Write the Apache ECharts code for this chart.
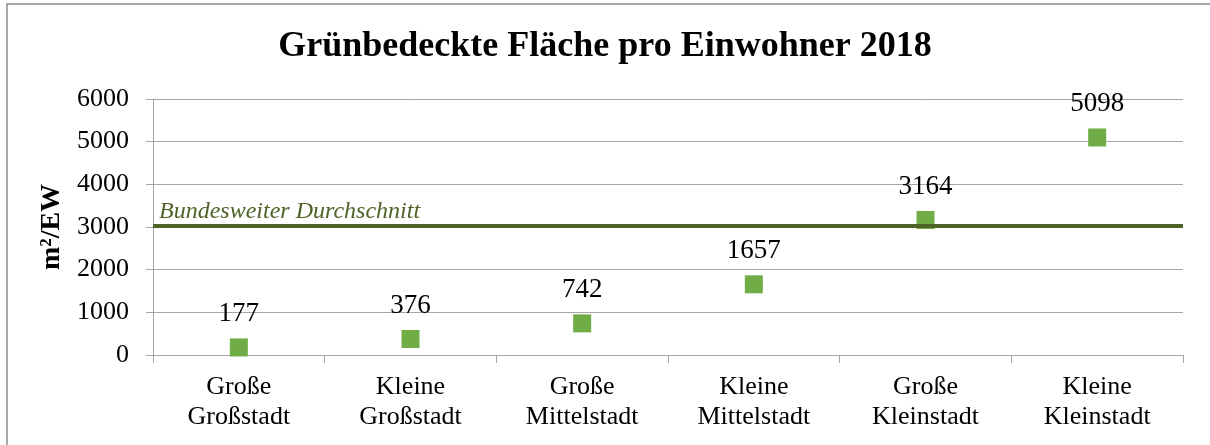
<!DOCTYPE html>
<html>
<head>
<meta charset="utf-8">
<script src="https://cdn.jsdelivr.net/npm/echarts@6/dist/echarts.min.js"></script>
<style>
  html, body { margin: 0; padding: 0; background: #fff; }
  #chart { width: 1210px; height: 445px; }
</style>
</head>
<body>
<div id="chart"></div>
<script>
// data
const categories = [
  "Große\nGroßstadt",
  "Kleine\nGroßstadt",
  "Große\nMittelstadt",
  "Kleine\nMittelstadt",
  "Große\nKleinstadt",
  "Kleine\nKleinstadt"
];
const areaPerResident = [177, 376, 742, 1657, 3164, 5098];
const nationalAverage = 3030;
const yTicks = { min: 0, max: 6000, interval: 1000 };

const serif = "'Liberation Serif', 'Times New Roman', serif";
const axisGray = "#a6a6a6";

const chart = echarts.init(document.getElementById("chart"));

const options = {
  animation: false,
  title: {
    text: "Grünbedeckte Fläche pro Einwohner 2018",
    left: "center",
    top: 24,
    textStyle: { fontFamily: serif, fontWeight: "bold", fontSize: 36, color: "#000" }
  },
  graphic: [
    {
      type: "rect",
      shape: { x: 7, y: 4, width: 1230, height: 470 },
      style: { fill: "none", stroke: "#8c8c8c", lineWidth: 1.5 },
      silent: true
    }
  ],
  grid: { left: 153, right: 27, top: 99, bottom: 90, containLabel: false },
  xAxis: {
    type: "category",
    data: categories,
    boundaryGap: true,
    axisLine: { lineStyle: { color: axisGray, width: 1 } },
    axisTick: { show: true, length: 8, interval: 0, lineStyle: { color: axisGray } },
    axisLabel: {
      interval: 0,
      margin: 17,
      fontFamily: serif,
      fontSize: 26,
      lineHeight: 30,
      color: "#000"
    },
    splitLine: { show: false }
  },
  yAxis: {
    type: "value",
    min: yTicks.min,
    max: yTicks.max,
    interval: yTicks.interval,
    name: "m²/EW",
    nameLocation: "middle",
    nameRotate: 90,
    nameGap: 82,
    nameTextStyle: { fontFamily: serif, fontWeight: "bold", fontSize: 28, color: "#000" },
    axisLine: { show: true, lineStyle: { color: axisGray, width: 1 } },
    axisTick: { show: true, length: 7, lineStyle: { color: axisGray } },
    axisLabel: {
      margin: 24,
      fontFamily: serif,
      fontSize: 26,
      color: "#000",
      formatter: (v) => String(v)
    },
    splitLine: { lineStyle: { color: axisGray, width: 1 } }
  },
  series: [
    {
      type: "scatter",
      data: areaPerResident,
      symbol: "rect",
      symbolSize: 18,
      itemStyle: { color: "#70ad47", opacity: 1 },
      label: {
        show: true,
        position: "top",
        distance: 11,
        fontFamily: serif,
        fontSize: 27,
        color: "#000"
      },
      markLine: {
        silent: true,
        symbol: "none",
        lineStyle: { color: "#4f6228", width: 4, type: "solid" },
        label: {
          show: true,
          position: "insideStartTop",
          formatter: "Bundesweiter Durchschnitt",
          fontFamily: serif,
          fontStyle: "italic",
          fontSize: 24,
          color: "#4f6228",
          distance: [6, 2]
        },
        data: [{ yAxis: nationalAverage }]
      }
    }
  ]
};

chart.setOption(options);
</script>
</body>
</html>
